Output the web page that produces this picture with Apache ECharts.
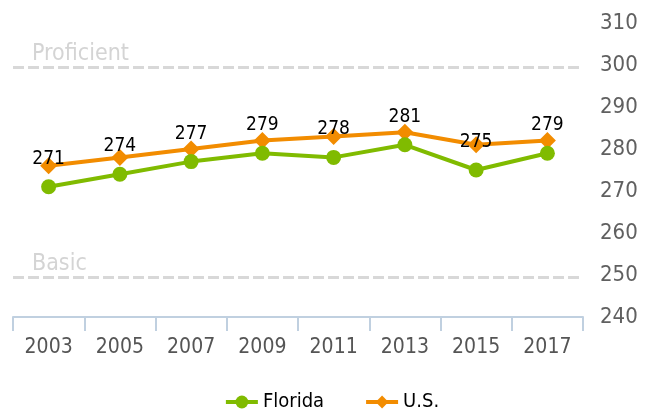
<!DOCTYPE html>
<html>
<head>
<meta charset="utf-8">
<script src="https://cdn.jsdelivr.net/npm/echarts@6/dist/echarts.min.js"></script>
<style>
html, body { margin: 0; padding: 0; background: #fff; }
#main { width: 663px; height: 417px; }
</style>
</head>
<body>
<div id="main"></div>
<script>
// data
var years = ['2003', '2005', '2007', '2009', '2011', '2013', '2015', '2017'];
var florida = [271, 274, 277, 279, 278, 281, 275, 279];
var us = [276, 278, 280, 282, 283, 284, 281, 282];
var levelNames = ['Proficient', 'Basic'];
var levelValues = [299.5, 249.5];

var font = '"DejaVu Sans Condensed", "Liberation Sans Narrow", "DejaVu Sans", sans-serif';
var green = '#80bb00';
var orange = '#f28c00';

var levelLines = [];
for (var i = 0; i < levelNames.length; i++) {
	levelLines.push({ yAxis: levelValues[i], name: levelNames[i] });
}

var myChart = echarts.init(document.getElementById('main'));
myChart.setOption({
	animation: false,
	textStyle: { fontFamily: font },
	grid: { left: 13, right: 80, top: 23, bottom: 100 },
	legend: {
		bottom: 0,
		left: 'center',
		itemGap: 40,
		itemWidth: 32,
		itemHeight: 16,
		lineStyle: { width: 4 },
		textStyle: { fontSize: 20, color: '#000', fontFamily: font },
		data: ['Florida', 'U.S.']
	},
	xAxis: {
		type: 'category',
		data: years,
		boundaryGap: true,
		axisLine: { lineStyle: { color: '#c0d0e0', width: 2 } },
		axisTick: { show: true, length: 14, lineStyle: { color: '#c0d0e0', width: 2 } },
		axisLabel: { fontSize: 21, color: '#555', margin: 20, fontFamily: font }
	},
	yAxis: {
		type: 'value',
		position: 'right',
		min: 240,
		max: 310,
		interval: 10,
		splitLine: { show: false },
		axisLine: { show: false },
		axisTick: { show: false },
		axisLabel: { fontSize: 22, color: '#606060', margin: 17, padding: [0, 0, 8, 0], fontFamily: font }
	},
	series: [
		{
			name: 'Florida',
			type: 'line',
			data: florida,
			symbol: 'circle',
			symbolSize: 15,
			itemStyle: { color: green },
			lineStyle: { color: green, width: 4 },
			z: 3,
			label: {
				show: true,
				position: 'top',
				distance: 11,
				fontSize: 19,
				color: '#000',
				fontFamily: font
			},
			markLine: {
				silent: true,
				symbol: 'none',
				lineStyle: { color: '#d8d8d8', type: [11, 4], width: 3 },
				label: {
					show: true,
					position: 'insideStartTop',
					formatter: '{b}',
					fontSize: 23,
					color: '#d4d4d4',
					distance: [19, 2],
					fontFamily: font
				},
				data: levelLines
			}
		},
		{
			name: 'U.S.',
			type: 'line',
			data: us,
			symbol: 'diamond',
			symbolSize: 17,
			itemStyle: { color: orange },
			lineStyle: { color: orange, width: 4 },
			z: 2
		}
	]
});
</script>
</body>
</html>
